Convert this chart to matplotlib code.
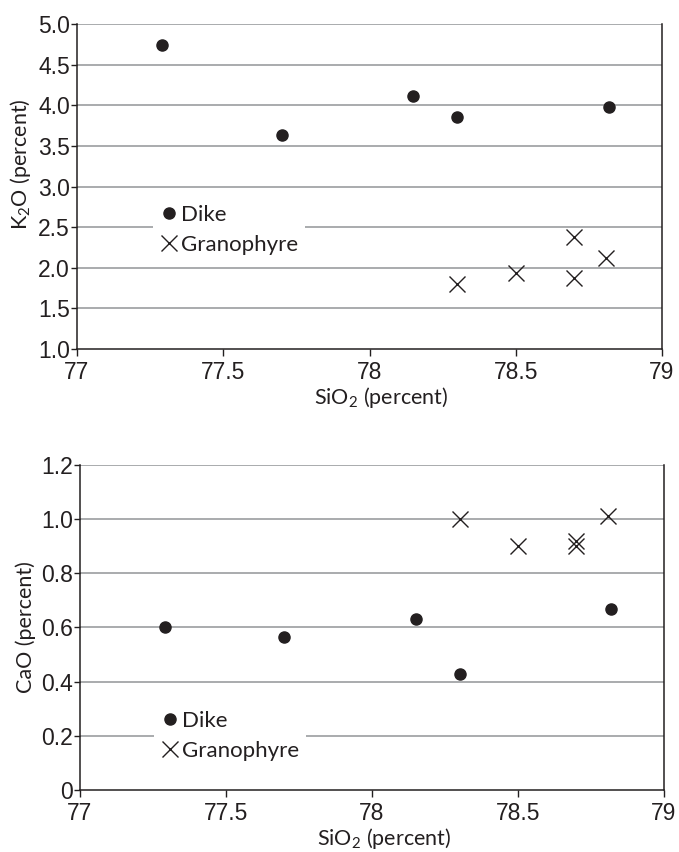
import matplotlib
matplotlib.use("Agg")
import matplotlib.pyplot as plt
from matplotlib.lines import Line2D

# K2O vs SiO2
dike_sio2 = [77.29, 77.70, 78.15, 78.30, 78.82]
dike_k2o = [4.74, 3.63, 4.11, 3.86, 3.98]
gran_sio2 = [78.30, 78.50, 78.70, 78.70, 78.81]
gran_k2o = [1.80, 1.94, 2.38, 1.87, 2.12]

# CaO vs SiO2
dike_cao = [0.60, 0.566, 0.63, 0.428, 0.668]
gran_sio2_b = [78.30, 78.50, 78.70, 78.70, 78.81]
gran_cao = [1.00, 0.90, 0.92, 0.90, 1.01]

xticks = [77, 77.5, 78, 78.5, 79]
xlabels = ["77", "77.5", "78", "78.5", "79"]
k2o_ticks = [1.0, 1.5, 2.0, 2.5, 3.0, 3.5, 4.0, 4.5, 5.0]
k2o_labels = ["1.0", "1.5", "2.0", "2.5", "3.0", "3.5", "4.0", "4.5", "5.0"]
cao_ticks = [0, 0.2, 0.4, 0.6, 0.8, 1.0, 1.2]
cao_labels = ["0", "0.2", "0.4", "0.6", "0.8", "1.0", "1.2"]

ink = "#231f20"
grid = "#a3a5a7"
plt.rcParams["mathtext.fontset"] = "custom"
plt.rcParams["mathtext.rm"] = "Lato"
lab_font = dict(family="Lato", size=15.5, color=ink)

fig = plt.figure(figsize=(6.79, 8.52), dpi=100)
ax1 = fig.add_axes([0.1134, 0.5904, 0.8616, 0.3814])
ax2 = fig.add_axes([0.1178, 0.0728, 0.8600, 0.3815])


def style(ax, yt, yl, ylo, yhi, ylabel, ylab_y):
    ax.set_xlim(77, 79)
    ax.set_ylim(ylo, yhi)
    ax.set_xticks(xticks)
    ax.set_xticklabels(xlabels, family="Liberation Sans", size=16.5, color=ink)
    ax.set_yticks(yt)
    ax.set_yticklabels(yl, family="Liberation Sans", size=16.5, color=ink)
    for y in yt[1:]:
        ax.axhline(y, color=grid, lw=1.3, zorder=0)
    ax.spines["top"].set_visible(False)
    for s in ["left", "bottom", "right"]:
        ax.spines[s].set_color(ink)
        ax.spines[s].set_linewidth(1.1)
    ax.tick_params(axis="x", direction="out", length=5, width=1, color=ink, pad=4)
    ax.tick_params(axis="y", direction="out", length=4, width=1, color=ink, pad=1)
    ax.set_xlabel(r"SiO$_\mathregular{2}$ (percent)", **lab_font)
    ax.xaxis.set_label_coords(0.52, -0.112)
    ax.set_ylabel(ylabel, **lab_font)
    ax.yaxis.set_label_coords(-0.075, ylab_y)


style(ax1, k2o_ticks, k2o_labels, 1.0, 5.0, r"K$_\mathregular{2}$O (percent)", 0.569)
style(ax2, cao_ticks, cao_labels, 0.0, 1.2, "CaO (percent)", 0.5)

ax1.plot(dike_sio2, dike_k2o, "o", color=ink, ms=8, ls="none", zorder=3)
ax1.plot(gran_sio2, gran_k2o, "x", color=ink, ms=11, mew=1.0, ls="none", zorder=3)
ax2.plot(dike_sio2, dike_cao, "o", color=ink, ms=8, ls="none", zorder=3)
ax2.plot(gran_sio2_b, gran_cao, "x", color=ink, ms=11, mew=1.0, ls="none", zorder=3)

handles = [
    Line2D([], [], marker="o", color=ink, ms=8, ls="none", label="Dike"),
    Line2D([], [], marker="x", color=ink, ms=11, mew=1.0, ls="none", label="Granophyre"),
]
for ax, anchor in [(ax1, (0.13, 0.465)), (ax2, (0.127, 0.265))]:
    leg = ax.legend(handles=handles, loc="upper left", bbox_to_anchor=anchor,
                    frameon=True, fancybox=False, framealpha=1, facecolor="white",
                    edgecolor="none", prop=dict(family="Lato", size=16),
                    handlelength=0.8, handletextpad=0.15, labelspacing=0.45,
                    borderpad=0.3, borderaxespad=0)
    for t in leg.get_texts():
        t.set_color(ink)

fig.savefig("out.png", dpi=100)
